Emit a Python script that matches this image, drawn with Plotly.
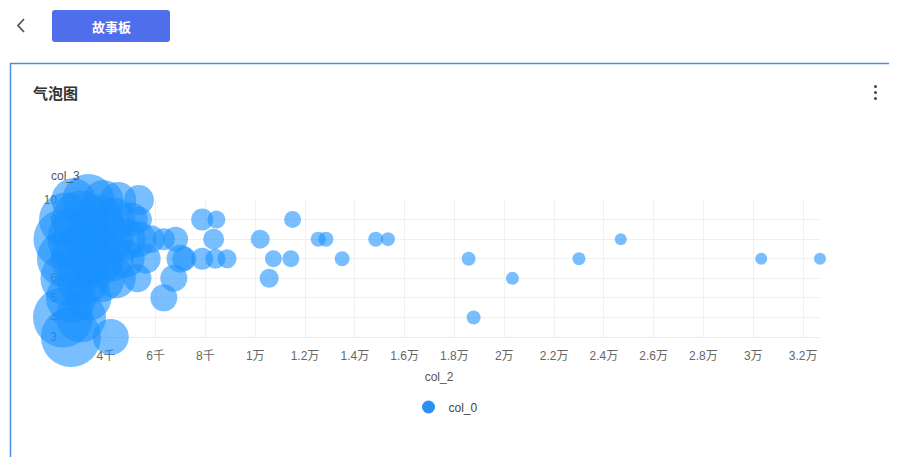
import plotly.graph_objects as go

# ---- data ----
col_2 = [2700, 3300, 3900, 4500, 5330,
         2400, 3000, 3700, 4300, 5000, 5330, 7870, 8440, 11500,
         2300, 2900, 3500, 4100, 4700, 5300, 5800, 6330, 6800, 8330, 10200, 12530, 12840, 14840, 15330, 24680,
         2400, 3000, 3600, 4200, 4800, 5600, 7000, 7150, 7870, 8400, 8870, 10730, 11430, 13490, 18570, 23000, 30320, 32680,
         2500, 3100, 3800, 4400, 5270, 6730, 10560, 20330,
         2600, 3300, 6330,
         2280, 3000, 18770,
         2600, 4200]
col_3 = [10, 10, 10, 10, 10,
         9, 9, 9, 9, 9, 9, 9, 9, 9,
         8, 8, 8, 8, 8, 8, 8, 8, 8, 8, 8, 8, 8, 8, 8, 8,
         7, 7, 7, 7, 7, 7, 7, 7, 7, 7, 7, 7, 7, 7, 7, 7, 7, 7,
         6, 6, 6, 6, 6, 6, 6, 6,
         5, 5, 5,
         4, 4, 4,
         3, 3]
col_1 = [44, 52, 40, 36, 30,
         54, 58, 50, 44, 34, 26, 22, 18, 17,
         60, 62, 58, 50, 44, 36, 28, 22, 25, 21, 19, 15, 15, 15, 14, 12,
         58, 60, 54, 46, 38, 30, 28, 24, 22, 20, 19, 17, 17, 15, 14, 13, 12, 12,
         56, 54, 48, 40, 28, 27, 19, 13,
         50, 46, 27,
         60, 50, 14,
         60, 36]

x_tickvals = [4000, 6000, 8000, 10000, 12000, 14000, 16000, 18000, 20000,
              22000, 24000, 26000, 28000, 30000, 32000]
x_ticktext = ["4千", "6千", "8千", "1万", "1.2万", "1.4万", "1.6万", "1.8万", "2万",
              "2.2万", "2.4万", "2.6万", "2.8万", "3万", "3.2万"]
y_tickvals = [3, 4, 5, 6, 7, 8, 9, 10]
x_range = [2080, 32680]
y_range = [3, 10]

# ---- geometry (screen pixels; page body adds an 8px offset) ----
OFF = 8
SW, SH = 897, 457
W, H = SW - OFF, SH - OFF
L, R, T, B = 58, 820, 200, 337   # plot area in screen pixels


def px(x):
    return (x - L) / (R - L)


def py(y):
    return (B - y) / (B - T)


FONT = "Liberation Sans, Arial, Noto Sans CJK SC, sans-serif"
BLUE = "#1890FF"

fig = go.Figure()
fig.add_trace(go.Scatter(
    x=col_2, y=col_3, mode="markers", name="col_0", showlegend=False,
    cliponaxis=False,
    marker=dict(size=col_1, sizemode="diameter", sizeref=1, color=BLUE,
                opacity=0.58, line=dict(width=0)),
    hoverinfo="x+y",
))
fig.add_trace(go.Scatter(
    x=[None], y=[None], mode="markers", name="col_0", showlegend=True,
    marker=dict(size=13, color="#2B8FF5"),
))

shapes = []
# card border
shapes.append(dict(type="rect", xref="paper", yref="paper",
                   x0=px(10.5), x1=px(910), y0=py(63.5), y1=py(480),
                   line=dict(color="#4A8FE0", width=1.5), fillcolor="rgba(0,0,0,0)",
                   layer="below"))
# button (rounded)
bx0, bx1, by0, by1, rr = 52, 170, 10, 42, 3
path = (f"M {px(bx0 + rr)} {py(by0)} L {px(bx1 - rr)} {py(by0)} "
        f"Q {px(bx1)} {py(by0)} {px(bx1)} {py(by0 + rr)} "
        f"L {px(bx1)} {py(by1 - rr)} Q {px(bx1)} {py(by1)} {px(bx1 - rr)} {py(by1)} "
        f"L {px(bx0 + rr)} {py(by1)} Q {px(bx0)} {py(by1)} {px(bx0)} {py(by1 - rr)} "
        f"L {px(bx0)} {py(by0 + rr)} Q {px(bx0)} {py(by0)} {px(bx0 + rr)} {py(by0)} Z")
shapes.append(dict(type="path", xref="paper", yref="paper", path=path,
                   line=dict(width=0), fillcolor="#4E6EEB", layer="below"))
# back chevron
shapes.append(dict(type="path", xref="paper", yref="paper",
                   path=f"M {px(24)} {py(19)} L {px(18)} {py(25.5)} L {px(24)} {py(32)}",
                   line=dict(color="#555555", width=1.8), layer="above"))
# three dots
for yy in [86.5, 92.5, 98.5]:
    shapes.append(dict(type="circle", xref="paper", yref="paper",
                       x0=px(874), x1=px(877), y0=py(yy - 1.5), y1=py(yy + 1.5),
                       line=dict(width=0), fillcolor="#444444"))

annotations = [
    dict(text="<b>故事板</b>", x=px(111), y=py(26), xref="paper", yref="paper",
         showarrow=False, font=dict(family="Noto Sans CJK SC", size=13, color="white"),
         xanchor="center", yanchor="middle"),
    dict(text="<b>气泡图</b>", x=px(31), y=py(92), xref="paper", yref="paper",
         showarrow=False, font=dict(family="Noto Sans CJK SC", size=15, color="#333333"),
         xanchor="left", yanchor="middle"),
    dict(text="col_3", x=px(49), y=py(176), xref="paper", yref="paper",
         showarrow=False, font=dict(family=FONT, size=12, color="#555555"),
         xanchor="left", yanchor="middle"),
]

fig.update_layout(
    width=W, height=H,
    margin=dict(l=L - OFF, r=SW - R, t=T - OFF, b=SH - B, pad=0),
    paper_bgcolor="white", plot_bgcolor="white",
    font=dict(family=FONT, size=12, color="#666666"),
    shapes=shapes, annotations=annotations,
    showlegend=True,
    legend=dict(orientation="h", x=px(446), xanchor="center", y=py(407), yanchor="middle",
                font=dict(family=FONT, size=12, color="#444444"),
                itemwidth=30, bgcolor="rgba(0,0,0,0)"),
    xaxis=dict(range=x_range, tickvals=x_tickvals, ticktext=x_ticktext,
               showgrid=True, gridcolor="#F0F0F0", gridwidth=1,
               zeroline=False, showline=True, linecolor="#EBEBEB", linewidth=1,
               ticks="outside", ticklen=8, tickcolor="rgba(0,0,0,0)",
               tickfont=dict(family=FONT, size=12, color="#666666"),
               title=dict(text="col_2", standoff=10,
                          font=dict(family=FONT, size=12, color="#555555")),
               layer="below traces", fixedrange=True),
    yaxis=dict(range=y_range, tickvals=y_tickvals,
               showgrid=True, gridcolor="#F0F0F0", gridwidth=1,
               zeroline=False, showline=False,
               ticks="", tickfont=dict(family=FONT, size=12, color="#666666"),
               layer="below traces", fixedrange=True),
)

fig.write_html("out.html")
